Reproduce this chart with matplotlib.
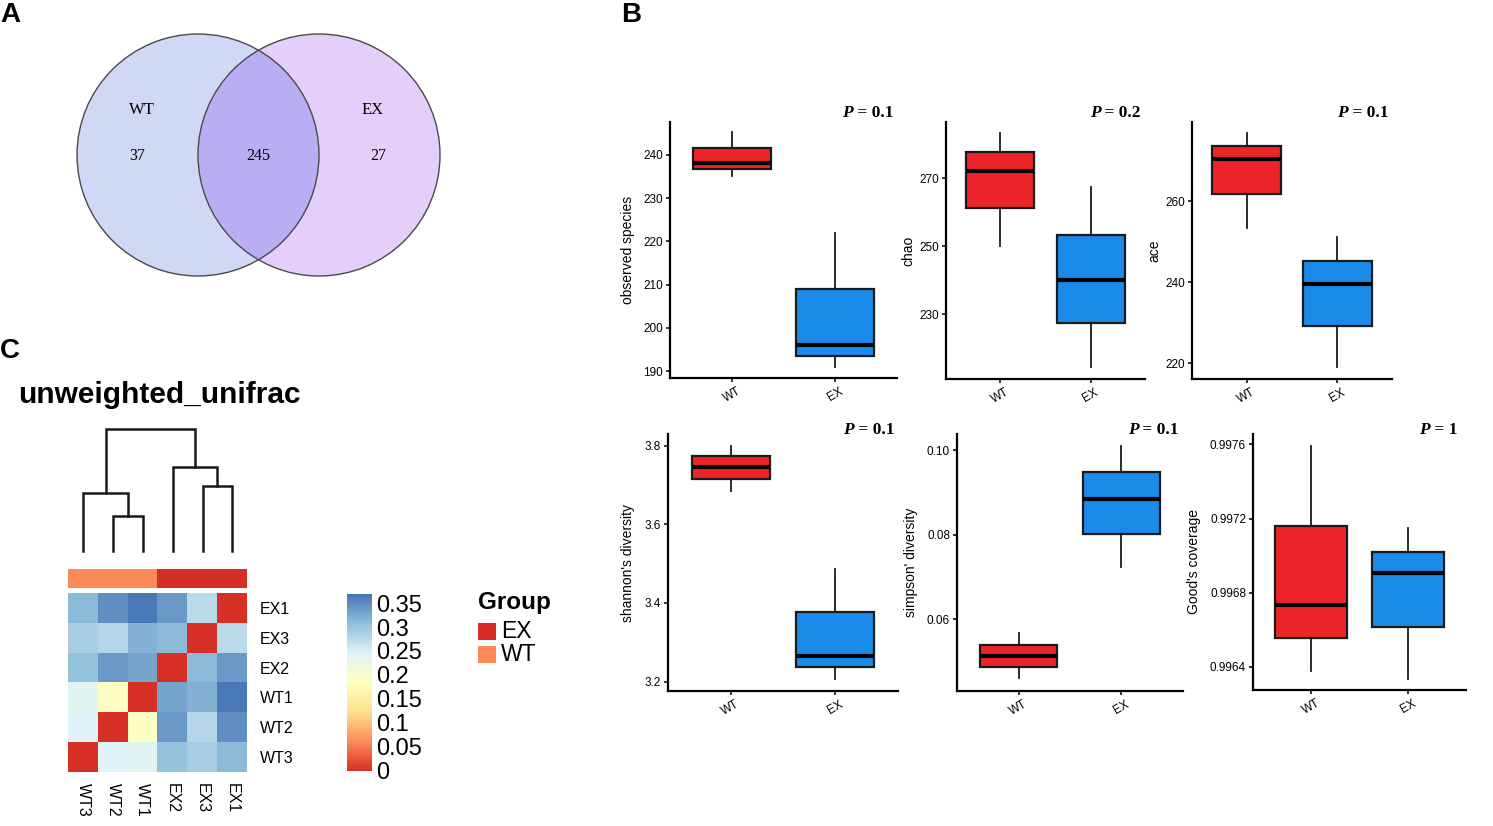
import matplotlib
matplotlib.use("Agg")
import matplotlib.pyplot as plt
import numpy as np
from matplotlib.patches import Circle, Rectangle
from matplotlib.colors import LinearSegmentedColormap, ListedColormap, Normalize
from matplotlib.cm import ScalarMappable

plt.rcParams['font.family'] = ['Liberation Sans', 'DejaVu Sans']

# ---- panel A: venn counts ----
venn_names = ['WT', 'EX']
venn_counts = [37, 245, 27]   # WT only, shared, EX only

# ---- panel B: box statistics [whislo, q1, median, q3, whishi] ----
groups = ['WT', 'EX']
obs_wt = [235.1, 236.7, 238.2, 241.5, 245.2]
obs_ex = [191.0, 193.5, 196.0, 208.9, 222.0]
chao_wt = [250.0, 261.1, 272.1, 277.6, 283.3]
chao_ex = [214.5, 227.4, 239.9, 253.4, 267.3]
ace_wt = [253.3, 261.7, 270.3, 273.5, 276.8]
ace_ex = [219.1, 229.2, 239.5, 245.2, 251.2]
shan_wt = [3.686, 3.716, 3.747, 3.774, 3.800]
shan_ex = [3.206, 3.237, 3.266, 3.377, 3.487]
simp_wt = [0.0460, 0.0486, 0.0512, 0.0539, 0.0568]
simp_ex = [0.0723, 0.0801, 0.0884, 0.0947, 0.1010]
good_wt = [0.996378, 0.996554, 0.996734, 0.997161, 0.997590]
good_ex = [0.996335, 0.996617, 0.996905, 0.997021, 0.997148]
p_values = ['0.1', '0.2', '0.1', '0.1', '0.1', '1']
ylabels = ['observed species', 'chao', 'ace', "shannon's diversity",
           "simpson' diversity", "Good's coverage"]

# ---- panel C: unweighted unifrac distances ----
col_names = ['WT3', 'WT2', 'WT1', 'EX2', 'EX3', 'EX1']
row_names = ['EX1', 'EX3', 'EX2', 'WT1', 'WT2', 'WT3']
col_groups = ['WT', 'WT', 'WT', 'EX', 'EX', 'EX']
dist = [
    [0.310, 0.348, 0.365, 0.338, 0.274, 0.000],
    [0.289, 0.279, 0.318, 0.310, 0.000, 0.274],
    [0.303, 0.338, 0.330, 0.000, 0.310, 0.338],
    [0.240, 0.190, 0.000, 0.330, 0.318, 0.365],
    [0.246, 0.000, 0.190, 0.338, 0.279, 0.348],
    [0.000, 0.246, 0.240, 0.303, 0.289, 0.310],
]
# dendrogram merges over column order: (left node, right node, height)
merges = [(1, 2, 0.100), (0, 6, 0.167), (4, 5, 0.186), (3, 8, 0.242), (7, 9, 0.350)]
cbar_ticks = [0, 0.05, 0.1, 0.15, 0.2, 0.25, 0.3, 0.35]
cbar_labels = ['0', '0.05', '0.1', '0.15', '0.2', '0.25', '0.3', '0.35']

W, H = 1493, 826
fig = plt.figure(figsize=(W / 100, H / 100), dpi=100)


def add_ax(x0, y0, x1, y1):
    return fig.add_axes([x0 / W, 1 - y1 / H, (x1 - x0) / W, (y1 - y0) / H])


def ftext(x, y, s, **kw):
    return fig.text(x / W, 1 - y / H, s, **kw)


# panel letters
ftext(0, 15, 'A', fontsize=20, fontweight='bold', va='center')
ftext(621, 15, 'B', fontsize=20, fontweight='bold', va='center')
ftext(0, 351, 'C', fontsize=20, fontweight='bold', va='center')

# ---------------- Venn ----------------
axv = add_ax(0, 0, 460, 300)
axv.set_xlim(0, 460)
axv.set_ylim(300, 0)
axv.axis('off')
cl = Circle((198, 155), 121, fc='#CFD9F5', ec='none')
cr = Circle((319, 155), 121, fc='#E4CFFB', ec='none')
axv.add_patch(cl)
axv.add_patch(cr)
ov = Circle((198, 155), 121, fc='#B9ADF4', ec='none')
axv.add_patch(ov)
ov.set_clip_path(cr)
for c in [(198, 155), (319, 155)]:
    axv.add_patch(Circle(c, 121, fc='none', ec='#4a4a4a', lw=1.0))
serif = ['Liberation Serif', 'DejaVu Serif']
axv.text(142, 110, venn_names[0], family=serif, fontsize=12, ha='center', va='center')
axv.text(373, 110, venn_names[1], family=serif, fontsize=12, ha='center', va='center')
axv.text(137, 156, str(venn_counts[0]), family=serif, fontsize=11.5, ha='center', va='center')
axv.text(258, 156, str(venn_counts[1]), family=serif, fontsize=11.5, ha='center', va='center')
axv.text(378, 156, str(venn_counts[2]), family=serif, fontsize=11.5, ha='center', va='center')

# ---------------- boxplots ----------------
box_colors = ['#ED252A', '#1B8BEA']
panels = [
    (obs_wt, obs_ex, (670, 122, 897, 378), (188.4, 247.6), [190, 200, 210, 220, 230, 240], None, 35),
    (chao_wt, chao_ex, (946, 122, 1145, 379), (210.9, 286.5), [230, 250, 270], None, 31),
    (ace_wt, ace_ex, (1192, 122, 1392, 379), (216.1, 279.5), [220, 240, 260], None, 31),
    (shan_wt, shan_ex, (668, 434, 898, 691), (3.176, 3.83), [3.2, 3.4, 3.6, 3.8], '%.1f', 33),
    (simp_wt, simp_ex, (957, 434, 1183, 691), (0.0430, 0.1038), [0.06, 0.08, 0.10], '%.2f', 39),
    (good_wt, good_ex, (1253, 434, 1466, 690), (0.996276, 0.997656),
     [0.9964, 0.9968, 0.9972, 0.9976], '%.4f', 52),
]
for i, (wt, ex, rect, ylim, ticks, fmt, lab_off) in enumerate(panels):
    ax = add_ax(*rect)
    stats = []
    for name, s in zip(groups, [wt, ex]):
        stats.append(dict(whislo=s[0], q1=s[1], med=s[2], q3=s[3], whishi=s[4], label=name))
    b = ax.bxp(stats, positions=[1, 2], widths=0.75, patch_artist=True,
               showfliers=False, showcaps=False,
               boxprops=dict(linewidth=1.6, edgecolor='#1a1a1a'),
               medianprops=dict(color='black', linewidth=3.0),
               whiskerprops=dict(color='#1a1a1a', linewidth=1.3))
    for patch, c in zip(b['boxes'], box_colors):
        patch.set_facecolor(c)
    ax.set_xlim(0.4, 2.6)
    ax.set_ylim(*ylim)
    ax.set_yticks(ticks)
    if fmt:
        ax.set_yticklabels([fmt % t for t in ticks])
    ax.set_xticks([1, 2])
    ax.set_xticklabels(groups, rotation=30, ha='center')
    for sp in ['top', 'right']:
        ax.spines[sp].set_visible(False)
    for sp in ['left', 'bottom']:
        ax.spines[sp].set_linewidth(1.6)
    ax.tick_params(labelsize=8.5, length=3, width=1.1, pad=2)
    width = rect[2] - rect[0]
    ax.set_ylabel(ylabels[i], fontsize=10)
    ax.yaxis.set_label_coords(-lab_off / width, 0.5)
    # P value label
    py = 113 if i < 3 else 430
    pr = rect[2] - 4 if i != 5 else 1457
    t = ftext(pr, py, ' = ' + p_values[i], family=serif, fontweight='bold',
              fontsize=12.5, ha='right', va='center')
    ax.annotate('P', xy=(0, 0.5), xycoords=t, family=serif, fontweight='bold',
                fontstyle='italic', fontsize=12.5, ha='right', va='center')

# ---------------- heatmap ----------------
cmap = LinearSegmentedColormap.from_list(
    'rdylbu', ['#D73027', '#FC8D59', '#FEE090', '#FFFFBF', '#E0F3F8', '#91BFDB', '#4575B4'])
norm = Normalize(0, 0.369)

ftext(18, 395, 'unweighted_unifrac', fontsize=21.5, fontweight='bold', va='center')

axh = add_ax(68.3, 593.3, 247.3, 771.7)
axh.imshow(np.array(dist), cmap=cmap, norm=norm, aspect='auto', interpolation='nearest')
for sp in axh.spines.values():
    sp.set_visible(False)
axh.yaxis.tick_right()
axh.set_yticks(range(len(row_names)))
axh.set_yticklabels(row_names)
axh.set_xticks(range(len(col_names)))
axh.set_xticklabels(col_names, rotation=270)
axh.tick_params(length=0, labelsize=11.5)
axh.tick_params(axis='y', pad=9)
axh.tick_params(axis='x', pad=8)

# group annotation bar
axa = add_ax(68.3, 569, 247.3, 587.7)
grp_idx = [[0 if g == 'EX' else 1 for g in col_groups]]
axa.imshow(grp_idx, cmap=ListedColormap(['#D62F27', '#FB8A56']), vmin=0, vmax=1,
           aspect='auto', interpolation='nearest')
axa.axis('off')

# dendrogram
axd = add_ax(68.3, 429.3, 247.3, 550.7)
node_x = [i + 0.5 for i in range(len(col_names))]
node_h = [0.0] * len(col_names)
for a, bnode, h in merges:
    xa, xb = node_x[a], node_x[bnode]
    axd.plot([xa, xa, xb, xb], [node_h[a], h, h, node_h[bnode]], color='#1a1a1a', lw=1.8,
             solid_joinstyle='miter', clip_on=False)
    node_x.append((xa + xb) / 2)
    node_h.append(h)
axd.set_xlim(0, len(col_names))
axd.set_ylim(0, merges[-1][2])
axd.axis('off')

# colour bar
axc = add_ax(346.7, 594, 371.7, 770.7)
cb = fig.colorbar(ScalarMappable(norm=norm, cmap=cmap), cax=axc)
cb.outline.set_visible(False)
cb.set_ticks(cbar_ticks)
cb.set_ticklabels(cbar_labels)
axc.tick_params(length=0, labelsize=17, pad=3)

# group legend
ftext(478, 603, 'Group', fontsize=17.5, fontweight='bold', va='center')
leg_cols = {'EX': '#D62F27', 'WT': '#FB8A56'}
for k, (name, c) in enumerate(leg_cols.items()):
    y0 = 623 + k * 23
    fig.add_artist(Rectangle((478 / W, 1 - (y0 + 17) / H), 18 / W, 17 / H,
                             transform=fig.transFigure, fc=c, ec='none'))
    ftext(501, y0 + 8.5, name, fontsize=16.5, va='center')

fig.savefig('out.png', dpi=100)
